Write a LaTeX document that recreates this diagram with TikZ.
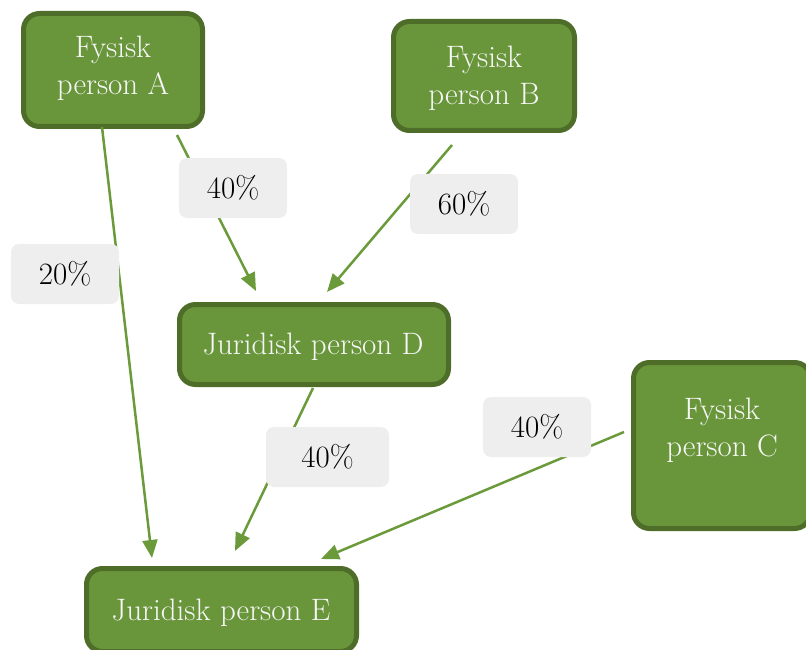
\documentclass[tikz,border=0pt]{standalone}
\usetikzlibrary{arrows.meta}
\definecolor{efill}{HTML}{69963B}
\definecolor{ebord}{HTML}{4D6D29}
\definecolor{lcol}{HTML}{6A9A3A}
\definecolor{lgray}{HTML}{EEEEEE}
\definecolor{etext}{HTML}{F7F7F7}
\begin{document}
\begin{tikzpicture}[x=1pt,y=-1pt,
  entity/.style={draw=ebord, fill=efill, line width=5pt, rounded corners=16pt, text=etext,
    align=center, inner sep=0pt, font=\fontsize{31}{37}\selectfont},
  etxt/.style={text=etext, align=center, inner sep=0pt, font=\fontsize{31}{37}\selectfont},
  pct/.style={fill=lgray, rounded corners=8pt, minimum width=108pt, minimum height=60pt,
    inner sep=0pt, font=\fontsize{31}{34}\selectfont},
  link/.style={draw=lcol, line width=2.5pt, -{Triangle[length=18pt,width=15pt]}}]
\useasboundingbox (0,0) rectangle (806,650);
\begin{scope}
\clip (0,0) rectangle (806,650);
% entities
\node[entity, minimum width=179pt, minimum height=113pt] (A) at (113,70) {};
\node[etxt] (At) at (113,68.5) {Fysisk\\person A};
\node[entity, minimum width=181pt, minimum height=109pt] (B) at (484,76) {};
\node[etxt] (Bt) at (484,78) {Fysisk\\person B};
\node[entity, minimum width=269pt, minimum height=80pt] (D) at (314,344.5) {};
\node[etxt] (Dt) at (313,347) {Juridisk person D};
\node[entity, minimum width=177pt, minimum height=166pt] (C) at (722,445.5) {};
\node[etxt] (Ct) at (722,430.5) {Fysisk\\person C};
\node[entity, minimum width=270pt, minimum height=83pt] (E) at (221.5,610) {};
\node[etxt] (Et) at (221,612.5) {Juridisk person E};
\end{scope}
% connector end points
\coordinate (a1) at (102,127);
\coordinate (e1) at (152,558);
\coordinate (a2) at (177,135);
\coordinate (d1) at (256,291);
\coordinate (b1) at (452,145);
\coordinate (d2) at (327,292);
\coordinate (d3) at (313,388);
\coordinate (e2) at (235,551);
\coordinate (c1) at (624,432);
\coordinate (e3) at (321,559);
% connectors
\draw[link] (a1) -- (e1);
\draw[link] (a2) -- (d1);
\draw[link] (b1) -- (d2);
\draw[link] (d3) -- (e2);
\draw[link] (c1) -- (e3);
% labels
\node[pct] (l1) at (233,188) {40\%};
\node[pct] (l2) at (464,204) {60\%};
\node[pct] (l3) at (65,274) {20\%};
\node[pct, minimum width=123pt] (l4) at (327.5,457) {40\%};
\node[pct] (l5) at (537,427) {40\%};
\end{tikzpicture}
\end{document}
